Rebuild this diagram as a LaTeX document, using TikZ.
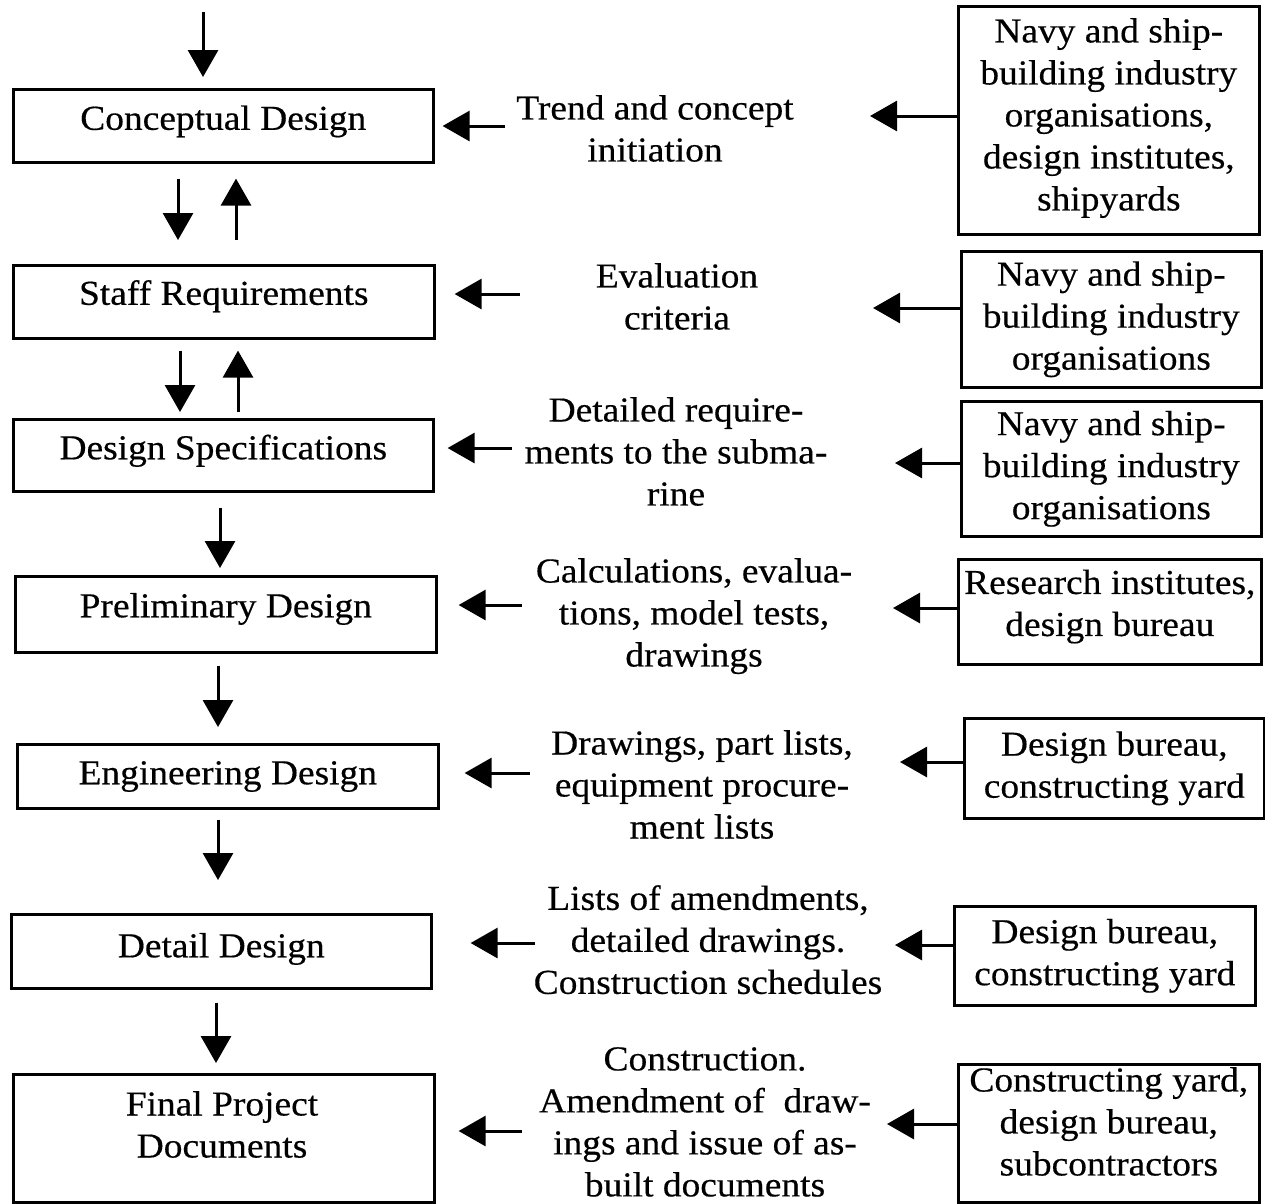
\documentclass[tikz,border=0pt]{standalone}
\usepackage{fontspec}
\setmainfont{Liberation Serif}[FakeStretch=1.07,FakeBold=0.4]
\usetikzlibrary{arrows.meta}

\begin{document}
\begin{tikzpicture}[x=1pt,y=-1pt,
  txt/.style={font=\fontsize{35}{42}\selectfont, align=center, inner sep=0pt},
  lbox/.style={txt, draw, line width=2.6pt, anchor=north west, minimum width=#1,
               text height=24pt},
  lbox/.default=420pt,
  rbox/.style={txt, draw, line width=2.6pt, anchor=north west, minimum width=#1},
  rbox/.default=300pt,
  mtext/.style={txt, anchor=north},
  arr/.style={line width=3pt, -{Triangle[length=27pt,width=30pt]}}
]
\useasboundingbox (0,0) rectangle (1265,1203);

% design stages (left column)
\node[lbox=420pt, minimum height=73pt, text depth=16pt] (c1) at (12,88)  {Conceptual Design};
\node[lbox=421pt, minimum height=73pt, text depth=18pt] (c2) at (12,264) {Staff Requirements};
\node[lbox=420pt, minimum height=72pt, text depth=16pt] (c3) at (12,418) {Design Specifications};
\node[lbox=421pt, minimum height=76pt, text depth=18pt] (c4) at (14,575) {Preliminary Design};
\node[lbox=421pt, minimum height=64pt, text depth=8pt]  (c5) at (16,743) {Engineering Design};
\node[lbox=420pt, minimum height=74pt, text depth=12pt] (c6) at (10,913) {Detail Design};
\node[lbox=421pt, minimum height=128pt] (c7) at (12,1073) {};
\node[mtext] (c7t) at (222,1091) {Final Project\\Documents};

% inputs to each stage (middle column)
\node[mtext] (m1) at (655,95)   {Trend and concept\\initiation};
\node[mtext] (m2) at (677,263)  {Evaluation\\criteria};
\node[mtext] (m3) at (676,397)  {Detailed require-\\ments to the subma-\\rine};
\node[mtext] (m4) at (694,558)  {Calculations, evalua-\\tions, model tests,\\drawings};
\node[mtext] (m5) at (702,730)  {Drawings, part lists,\\equipment procure-\\ment lists};
\node[mtext] (m6) at (708,885)  {Lists of amendments,\\detailed drawings.\\Construction schedules};
\node[mtext] (m7) at (705,1047) {Construction.\\Amendment of\ \ draw-\\ings and issue of as-\\built documents};

% responsible organisations (right column)
\node[rbox=301pt, minimum height=228pt] (r1) at (957,5)
  {Navy and ship-\\building industry\\organisations,\\design institutes,\\shipyards\\[-30pt]\mbox{}};
\node[rbox=300pt, minimum height=136pt] (r2) at (960,250)
  {Navy and ship-\\building industry\\organisations};
\node[rbox=300pt, minimum height=135pt] (r3) at (960,400)
  {Navy and ship-\\building industry\\organisations};
\node[rbox=303pt, minimum height=105pt] (r4) at (957,558)
  {Research institutes,\\design bureau\\[-24pt]\mbox{}};
\node[rbox=300pt, minimum height=100pt] (r5) at (963,717)
  {Design bureau,\\constructing yard};
\node[rbox=301pt, minimum height=99pt] (r6) at (953,905)
  {Design bureau,\\constructing yard};
\node[rbox=301pt, minimum height=138pt] (r7) at (957,1063)
  {Constructing yard,\\design bureau,\\subcontractors\\[-18pt]\mbox{}};

% vertical flow between stages
\coordinate (top) at (203,12);
\coordinate (v1) at (178,0);  \coordinate (u1) at (236,0);
\coordinate (v2) at (180,0);  \coordinate (u2) at (238,0);
\coordinate (v3) at (220,0);
\coordinate (v4) at (218,0);
\coordinate (v5) at (218,0);
\coordinate (v6) at (216,0);

\draw[arr, shorten >=11pt] (top) -- (c1.north -| top);
\draw[arr, shorten <=15pt, shorten >=24pt] (c1.south -| v1) -- (c2.north -| v1);
\draw[arr, shorten <=24pt, shorten >=15pt] (c2.north -| u1) -- (c1.south -| u1);
\draw[arr, shorten <=11pt, shorten >=6pt]  (c2.south -| v2) -- (c3.north -| v2);
\draw[arr, shorten <=6pt,  shorten >=11pt] (c3.north -| u2) -- (c2.south -| u2);
\draw[arr, shorten <=15pt, shorten >=7pt]  (c3.south -| v3) -- (c4.north -| v3);
\draw[arr, shorten <=12pt, shorten >=16pt] (c4.south -| v4) -- (c5.north -| v4);
\draw[arr, shorten <=10pt, shorten >=33pt] (c5.south -| v5) -- (c6.north -| v5);
\draw[arr, shorten <=13pt, shorten >=10pt] (c6.south -| v6) -- (c7.north -| v6);

% inputs feeding the stages
\coordinate (a1) at (505,126);
\coordinate (a2) at (520,294);
\coordinate (a3) at (512,448);
\coordinate (a4) at (522,605);
\coordinate (a5) at (530,773);
\coordinate (a6) at (535,943);
\coordinate (a7) at (522,1131);
\draw[arr, shorten >=8pt]  (a1) -- (c1.east |- a1);
\draw[arr, shorten >=19pt] (a2) -- (c2.east |- a2);
\draw[arr, shorten >=13pt] (a3) -- (c3.east |- a3);
\draw[arr, shorten >=21pt] (a4) -- (c4.east |- a4);
\draw[arr, shorten >=25pt] (a5) -- (c5.east |- a5);
\draw[arr, shorten >=38pt] (a6) -- (c6.east |- a6);
\draw[arr, shorten >=23pt] (a7) -- (c7.east |- a7);

% organisations feeding the inputs
\coordinate (b1) at (870,116);
\coordinate (b2) at (873,308);
\coordinate (b3) at (895,463);
\coordinate (b4) at (893,608);
\coordinate (b5) at (900,762);
\coordinate (b6) at (895,945);
\coordinate (b7) at (887,1124);
\draw[arr] (r1.west |- b1) -- (b1);
\draw[arr] (r2.west |- b2) -- (b2);
\draw[arr] (r3.west |- b3) -- (b3);
\draw[arr] (r4.west |- b4) -- (b4);
\draw[arr] (r5.west |- b5) -- (b5);
\draw[arr] (r6.west |- b6) -- (b6);
\draw[arr] (r7.west |- b7) -- (b7);
\end{tikzpicture}
\end{document}
